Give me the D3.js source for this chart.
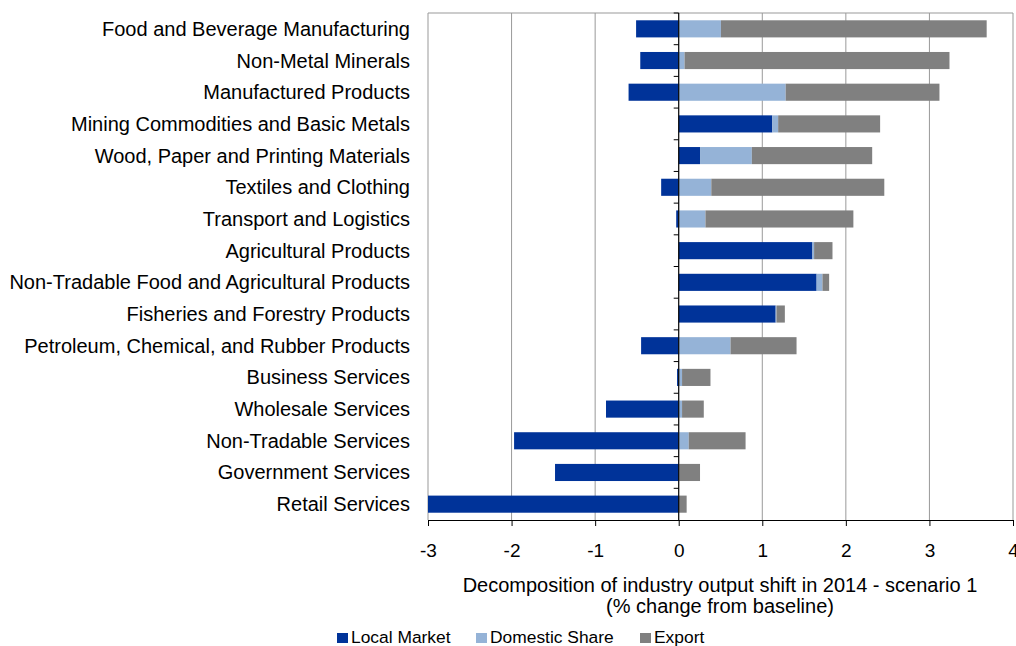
<!DOCTYPE html>
<html><head><meta charset="utf-8">
<script src="https://cdn.jsdelivr.net/npm/d3@7"></script>
<style>body{margin:0;background:#fff;} svg{display:block;font-family:"Liberation Sans",Arial,sans-serif;}</style>
</head><body>
<svg id="chart" width="1016" height="646"></svg>
<script>
const categories = ["Food and Beverage Manufacturing","Non-Metal Minerals","Manufactured Products","Mining Commodities and Basic Metals","Wood, Paper and Printing Materials","Textiles and Clothing","Transport and Logistics","Agricultural Products","Non-Tradable Food and Agricultural Products","Fisheries and Forestry Products","Petroleum, Chemical, and Rubber Products","Business Services","Wholesale Services","Non-Tradable Services","Government Services","Retail Services"];
const localMarket   = [-0.51,-0.46,-0.60,1.12,0.255,-0.21,-0.03,1.60,1.65,1.16,-0.45,-0.02,-0.87,-1.97,-1.48,-3.00];
const domesticShare = [0.505,0.07,1.28,0.07,0.62,0.39,0.32,0.02,0.07,0.01,0.62,0.04,0.04,0.12,0.005,0.0];
const exportShare   = [3.18,3.17,1.84,1.22,1.44,2.07,1.77,0.22,0.08,0.10,0.79,0.34,0.26,0.68,0.25,0.095];
const seriesNames = ["Local Market","Domestic Share","Export"];
const seriesColors = ["#003399","#95B3D7","#808080"];
const xTicks = [-3,-2,-1,0,1,2,3,4];
const axisTitle = ["Decomposition of industry output shift in 2014 - scenario 1","(% change from baseline)"];

const svg = d3.select("#chart");
const m = {l:428, r:1013, t:13, b:520};
const x = d3.scaleLinear().domain([-3,4]).range([m.l,m.r]);
const y = d3.scaleBand().domain(categories).range([m.t,m.b]).paddingInner(0.46).paddingOuter(0.23);
const yb = d3.scaleBand().domain(categories).range([m.t,m.b]);

// gridlines
svg.append("g").selectAll("line").data(xTicks.filter(d=>d!==0)).join("line")
  .attr("x1",d=>x(d)).attr("x2",d=>x(d)).attr("y1",m.t).attr("y2",m.b)
  .attr("stroke","#999").attr("stroke-width",1);
svg.append("line").attr("x1",m.l).attr("x2",m.r).attr("y1",m.t).attr("y2",m.t).attr("stroke","#999");

// stacked bars: positives stack right of zero, negatives left
const rows = categories.map((c,i)=>({c, vals:[localMarket[i],domesticShare[i],exportShare[i]]}));
const g = svg.append("g");
rows.forEach(r=>{
  let pos=0, neg=0;
  r.vals.forEach((v,k)=>{
    let x0,x1;
    if(v>=0){x0=pos; x1=pos+v; pos=x1;} else {x1=neg; x0=neg+v; neg=x0;}
    g.append("rect").attr("x",x(x0)).attr("width",Math.max(0,x(x1)-x(x0)))
      .attr("y",y(r.c)).attr("height",y.bandwidth()).attr("fill",seriesColors[k]);
  });
});

// zero axis with left ticks at category boundaries
svg.append("line").attr("x1",x(0)).attr("x2",x(0)).attr("y1",m.t).attr("y2",m.b).attr("stroke","#000").attr("stroke-width",1.2);
svg.append("g").selectAll("line").data(categories).join("line")
  .attr("x1",x(0)-5).attr("x2",x(0)).attr("y1",d=>yb(d)).attr("y2",d=>yb(d)).attr("stroke","#000");

// category labels
svg.append("g").selectAll("text").data(categories).join("text")
  .attr("x",410).attr("y",d=>yb(d)+yb.bandwidth()/2).attr("dy","0.35em")
  .attr("text-anchor","end").attr("font-size",20).attr("fill","#000").text(d=>d);

// bottom axis
const xa = svg.append("g").attr("transform",`translate(0,${m.b})`)
  .call(d3.axisBottom(x).tickValues(xTicks).tickSize(6).tickSizeOuter(0).tickFormat(d=>String(d)));
xa.select(".domain").attr("stroke","#000");
xa.selectAll(".tick line").attr("stroke","#000");
xa.selectAll("text").attr("y",37).attr("dy",null).attr("font-size",19).attr("fill","#000").attr("font-family","Liberation Sans, Arial, sans-serif");

// axis title
svg.append("g").selectAll("text").data(axisTitle).join("text")
  .attr("x",720).attr("y",(d,i)=>592+i*21).attr("text-anchor","middle").attr("font-size",20).attr("fill","#000").text(d=>d);

// legend
const lx=[337,476,640];
const leg = svg.append("g");
seriesNames.forEach((n,i)=>{
  leg.append("rect").attr("x",lx[i]).attr("y",633).attr("width",11).attr("height",10).attr("fill",seriesColors[i]);
  leg.append("text").attr("x",lx[i]+14).attr("y",643).attr("font-size",17.4).attr("fill","#000").text(n);
});
</script>
</body></html>
